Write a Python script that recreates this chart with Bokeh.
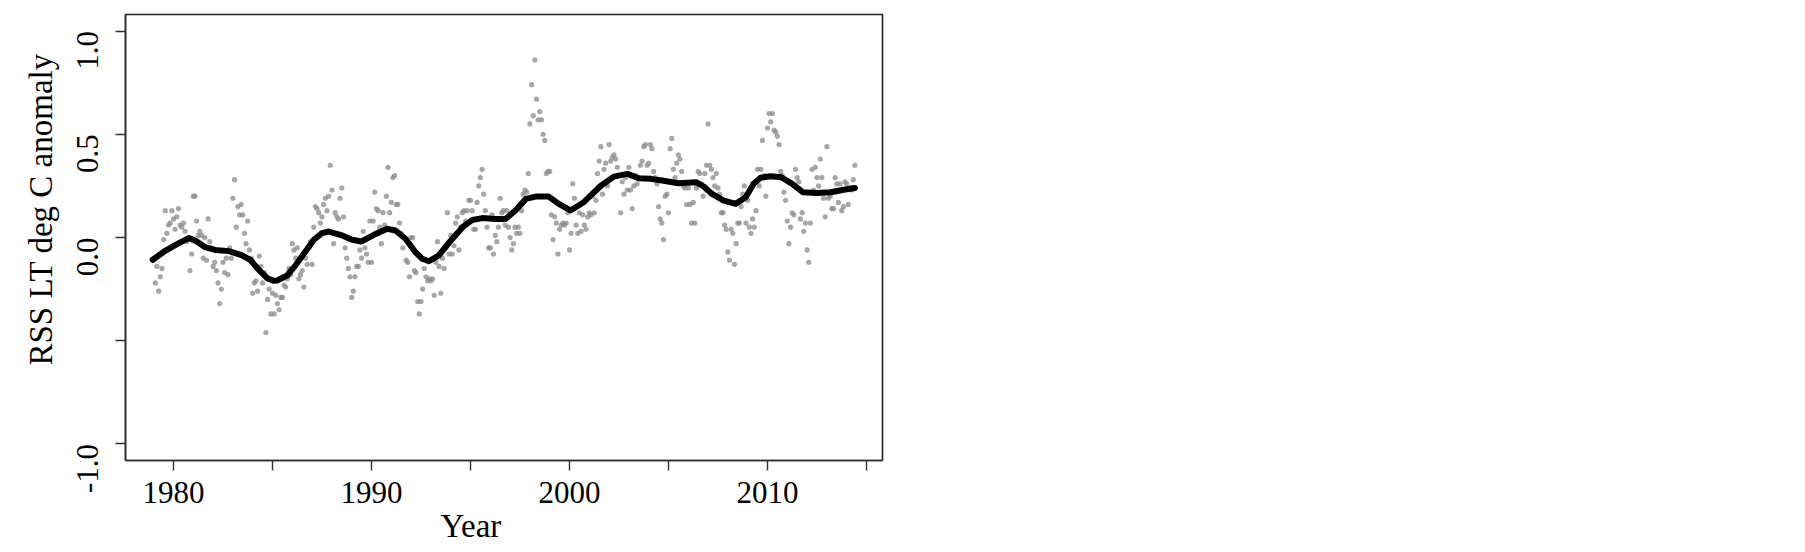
import numpy as np
from bokeh.plotting import figure
from bokeh.models import FixedTicker, Range1d, Title
from bokeh.embed import file_html
from bokeh.resources import INLINE

# Monthly RSS lower-troposphere anomalies (deg C)
first_year = 1979
anom_1979_1988 = [
    -0.11, -0.22, -0.14, -0.26, -0.19, -0.15, -0.01, 0.13, 0.02, 0.06, 0.07, 0.13,
    0.09, 0.04, 0.10, 0.14, 0.06, 0.05, 0.07, 0.03, -0.02, 0.00, -0.16, -0.08,
    0.20, 0.20, 0.08, 0.01, 0.03, 0.01, -0.10, 0.00, -0.11, 0.09, -0.02, -0.05,
    -0.14, -0.12, -0.16, -0.22, -0.32, -0.25, -0.12, -0.17, -0.10, -0.18, -0.05, -0.10,
    0.19, 0.28, 0.05, 0.15, 0.11, 0.16, 0.11, 0.02, -0.03, 0.08, -0.06, -0.10,
    -0.27, -0.22, -0.21, -0.26, -0.09, -0.14, -0.22, -0.17, -0.46, -0.30, -0.25, -0.37,
    -0.27, -0.37, -0.28, -0.32, -0.35, -0.29, -0.29, -0.23, -0.24, -0.20, -0.15, -0.18,
    -0.03, -0.06, -0.10, -0.05, -0.20, -0.18, -0.16, -0.24, -0.10, -0.13, -0.05, -0.02,
    -0.13, 0.05, 0.15, 0.14, 0.12, 0.07, 0.10, 0.16, 0.19, 0.13, 0.20, 0.35,
    0.23, -0.03, 0.12, 0.10, 0.09, 0.19, 0.24, 0.10, -0.05, -0.10, -0.15, -0.19,
]
anom_1989_1998 = [
    -0.29, -0.26, -0.19, -0.14, -0.14, -0.06, -0.10, 0.03, -0.05, -0.08, -0.12, 0.08,
    -0.12, 0.08, 0.22, 0.14, 0.13, 0.05, -0.03, 0.12, 0.06, 0.20, 0.34, 0.12,
    0.17, 0.29, 0.30, 0.16, 0.16, 0.07, 0.02, -0.05, 0.00, -0.11, -0.12, -0.19,
    0.00, 0.00, -0.16, -0.17, -0.31, -0.37, -0.31, -0.25, -0.15, -0.19, -0.21, -0.20,
    -0.21, -0.20, -0.28, -0.12, -0.02, -0.14, -0.27, -0.10, -0.15, -0.05, 0.12, -0.08,
    0.01, -0.08, -0.04, 0.07, 0.10, -0.06, 0.05, 0.12, 0.13, 0.08, 0.13, 0.18,
    0.18, 0.13, 0.04, 0.04, 0.17, 0.25, 0.29, 0.33, 0.21, 0.13, 0.05, -0.05,
    -0.05, 0.11, -0.08, 0.01, -0.02, 0.05, 0.19, 0.12, 0.13, 0.06, 0.13, 0.05,
    0.00, -0.06, -0.03, 0.05, 0.02, 0.05, 0.02, 0.13, 0.21, 0.23, 0.22, 0.31,
    0.55, 0.74, 0.59, 0.86, 0.67, 0.57, 0.61, 0.57, 0.50, 0.47, 0.31, 0.32,
]
anom_1999_2008 = [
    0.32, 0.11, -0.01, 0.10, 0.07, -0.08, 0.04, 0.06, 0.07, 0.06, 0.07, 0.12,
    -0.06, 0.02, 0.26, 0.19, 0.06, 0.02, 0.12, 0.03, 0.11, 0.06, 0.04, 0.10,
    0.12, 0.11, 0.20, 0.12, 0.18, 0.31, 0.37, 0.44, 0.21, 0.33, 0.36, 0.25,
    0.45, 0.37, 0.39, 0.40, 0.38, 0.34, 0.30, 0.12, 0.27, 0.21, 0.29, 0.23,
    0.34, 0.23, 0.14, 0.25, 0.30, 0.26, 0.29, 0.35, 0.37, 0.44, 0.45, 0.35,
    0.36, 0.45, 0.43, 0.32, 0.29, 0.26, 0.15, 0.09, 0.07, -0.01, 0.20, 0.21,
    0.12, 0.43, 0.48, 0.33, 0.29, 0.36, 0.40, 0.38, 0.32, 0.25, 0.24, 0.16,
    0.24, 0.16, 0.07, 0.17, 0.07, 0.24, 0.32, 0.31, 0.26, 0.20, 0.31, 0.35,
    0.55, 0.35, 0.33, 0.29, 0.25, 0.31, 0.24, 0.21, 0.12, 0.12, 0.06, 0.04,
    -0.07, -0.11, 0.04, 0.02, -0.13, -0.03, 0.07, 0.07, 0.15, 0.21, 0.25, 0.07,
]
anom_2009_2014 = [
    0.18, 0.05, 0.02, 0.09, 0.05, 0.13, 0.33, 0.25, 0.33, 0.47, 0.30, 0.20,
    0.53, 0.60, 0.56, 0.60, 0.52, 0.51, 0.49, 0.45, 0.32, 0.30, 0.22, 0.18,
    0.08, -0.03, 0.05, 0.12, 0.11, 0.33, 0.29, 0.27, 0.09, 0.12, 0.03, 0.07,
    -0.06, -0.12, 0.07, 0.33, 0.23, 0.34, 0.29, 0.25, 0.38, 0.29, 0.19, 0.10,
    0.44, 0.19, 0.20, 0.14, 0.14, 0.29, 0.26, 0.17, 0.26, 0.13, 0.15, 0.27,
    0.26, 0.16, 0.24, 0.23, 0.28, 0.35,
]

# Smoothed trend curve (time, value)
smooth_t = [1978.95, 1979.6, 1980.27, 1980.77, 1981.1, 1981.6, 1982.1, 1982.8, 1983.47,
            1983.9, 1984.3, 1984.73, 1985.07, 1985.24, 1985.74, 1986.16, 1986.6, 1987.09,
            1987.5, 1987.85, 1988.43, 1989.02, 1989.5, 1990.12, 1990.8, 1991.21, 1991.72,
            1992.22, 1992.56, 1992.9, 1993.4, 1993.9, 1994.6, 1995.09, 1995.6, 1996.26,
            1996.77, 1997.27, 1997.8, 1998.28, 1998.95, 1999.46, 2000.05, 2000.72, 2001.6,
            2002.24, 2002.93, 2003.5, 2004.1, 2004.68, 2005.5, 2006.4, 2006.78, 2007.2,
            2007.79, 2008.4, 2008.9, 2009.3, 2009.65, 2010.15, 2010.7, 2011.25, 2011.8,
            2012.5, 2013.2, 2013.85, 2014.42]
smooth_v = [-0.108, -0.063, -0.027, -0.003, -0.015, -0.047, -0.06, -0.066, -0.087,
            -0.11, -0.156, -0.197, -0.21, -0.208, -0.184, -0.135, -0.076, -0.011,
            0.021, 0.029, 0.013, -0.011, -0.019, 0.013, 0.042, 0.034, -0.006,
            -0.071, -0.103, -0.115, -0.087, -0.027, 0.05, 0.085, 0.094, 0.09,
            0.09, 0.131, 0.187, 0.198, 0.198, 0.163, 0.131, 0.171, 0.252,
            0.295, 0.308, 0.287, 0.284, 0.276, 0.263, 0.268, 0.247, 0.211,
            0.179, 0.163, 0.195, 0.26, 0.289, 0.297, 0.292, 0.26, 0.219,
            0.215, 0.219, 0.231, 0.24]

x_ticks = [1980, 1985, 1990, 1995, 2000, 2005, 2010, 2015]
x_labels = {1980: "1980", 1985: "", 1990: "1990", 1995: "", 2000: "2000",
            2005: "", 2010: "2010", 2015: ""}
y_ticks = [-1.0, -0.5, 0.0, 0.5, 1.0]
y_labels = {-1.0: "-1.0", -0.5: "", 0.0: "0.0", 0.5: "0.5", 1.0: "1.0"}

anom = anom_1979_1988 + anom_1989_1998 + anom_1999_2008 + anom_2009_2014
t = [first_year + i / 12.0 for i in range(len(anom))]

FONT = "Liberation Serif"
TICK_FS = "31px"
TITLE_FS = "33px"

p = figure(width=902, height=552, output_backend="svg", toolbar_location=None,
           x_range=Range1d(1977.576, 2015.81), y_range=Range1d(-1.08, 1.08),
           min_border_left=125, min_border_top=14, min_border_bottom=92, min_border_right=20)
p.xgrid.visible = False
p.ygrid.visible = False
p.background_fill_color = "white"
p.border_fill_color = "white"
p.outline_line_color = "#222222"
p.outline_line_width = 1.6

p.scatter(t, anom, size=5.2, fill_color="#8a8a8a", line_color=None, fill_alpha=0.75)
p.line(smooth_t, smooth_v, line_width=6, line_color="black", line_join="round", line_cap="round")

for ax in (p.xaxis[0], p.yaxis[0]):
    ax.axis_line_color = "#333333"
    ax.axis_line_width = 1.6
    ax.major_tick_line_color = "#333333"
    ax.major_tick_line_width = 1.4
    ax.major_tick_out = 10
    ax.major_tick_in = 0
    ax.minor_tick_line_color = None
    ax.major_label_text_font = FONT
    ax.major_label_text_font_size = TICK_FS
    ax.major_label_text_color = "black"

p.xaxis.ticker = FixedTicker(ticks=x_ticks)
p.xaxis.major_label_overrides = x_labels
p.xaxis.major_label_standoff = 11
p.yaxis.ticker = FixedTicker(ticks=y_ticks)
p.yaxis.major_label_overrides = y_labels
p.yaxis.major_label_orientation = np.pi / 2
p.yaxis.major_label_standoff = 28

ytitle = Title(text="RSS LT deg C anomaly", align="left", offset=95,
               text_font=FONT, text_font_size=TITLE_FS, text_font_style="normal",
               text_color="black", standoff=10)
p.add_layout(ytitle, "left")
xtitle = Title(text="Year", align="left", offset=315,
               text_font=FONT, text_font_size=TITLE_FS, text_font_style="normal",
               text_color="black", standoff=0)
p.add_layout(xtitle, "below")

open("out.html", "w").write(file_html(p, INLINE))
